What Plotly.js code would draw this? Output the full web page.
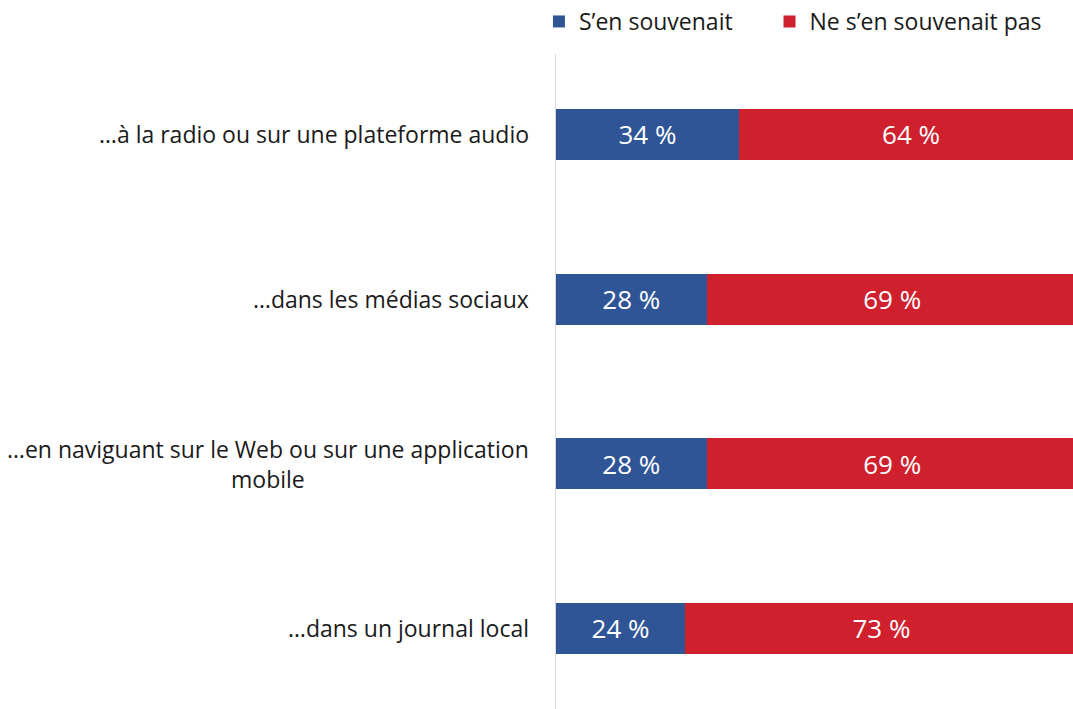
<!DOCTYPE html>
<html><head><meta charset="utf-8">
<script src="https://cdn.plot.ly/plotly-3.0.1.min.js"></script>
<style>html,body{margin:0;padding:0;background:#fff}#c{width:1073px;height:709px}</style>
</head><body><div id="c"></div>
<script>
const categories = [
  "…à la radio ou sur une plateforme audio",
  "…dans les médias sociaux",
  "…en naviguant sur le Web ou sur une application<br>mobile",
  "…dans un journal local"
];
const seriesNames = ["S’en souvenait", "Ne s’en souvenait pas"];
const remembered = [34, 28, 28, 24];
const notRemembered = [64, 69, 69, 73];
const colors = ["#2F5597", "#D0202E"];

const font = "Open Sans, Noto Sans, sans-serif";
const yIdx = categories.map((_, i) => i);

function trace(vals, name, color, legendId) {
  return {
    type: "bar", orientation: "h", name: name, legend: legendId,
    x: vals, y: yIdx,
    marker: {color: color, line: {width: 0}},
    text: vals.map(v => v + " %"),
    textposition: "inside", insidetextanchor: "middle",
    textfont: {color: "#ffffff", size: 26, family: font},
    constraintext: "none",
    hoverinfo: "skip"
  };
}

const data = [
  trace(remembered, seriesNames[0], colors[0], "legend"),
  trace(notRemembered, seriesNames[1], colors[1], "legend2")
];

const annotations = categories.map((c, i) => ({
  xref: "paper", yref: "y", x: 0, y: i,
  xanchor: "right", yanchor: "middle", xshift: -25,
  text: c, showarrow: false, align: "center",
  font: {size: 23, color: "#1a1a1a", family: font}
}));

const legendFont = {size: 23, color: "#1a1a1a", family: font};

const layout = {
  width: 1073, height: 709,
  margin: {l: 556, r: 0, t: 52, b: 0},
  barmode: "stack", bargap: 0.69,
  paper_bgcolor: "#fff", plot_bgcolor: "#fff",
  showlegend: true,
  legend: {orientation: "h", x: -0.033, xanchor: "left", y: 1.017, yanchor: "bottom", font: legendFont},
  legend2: {orientation: "h", x: 0.413, xanchor: "left", y: 1.017, yanchor: "bottom", font: legendFont},
  xaxis: {range: [0, 96.1], showgrid: false, zeroline: false, showticklabels: false, showline: false, fixedrange: true},
  yaxis: {range: [3.489, -0.488], showgrid: false, zeroline: false, showticklabels: false,
    showline: true, linecolor: "#d9d9d9", linewidth: 1, ticks: ""},
  annotations: annotations
};

Plotly.newPlot("c", data, layout, {displayModeBar: false, staticPlot: true});
</script></body></html>
